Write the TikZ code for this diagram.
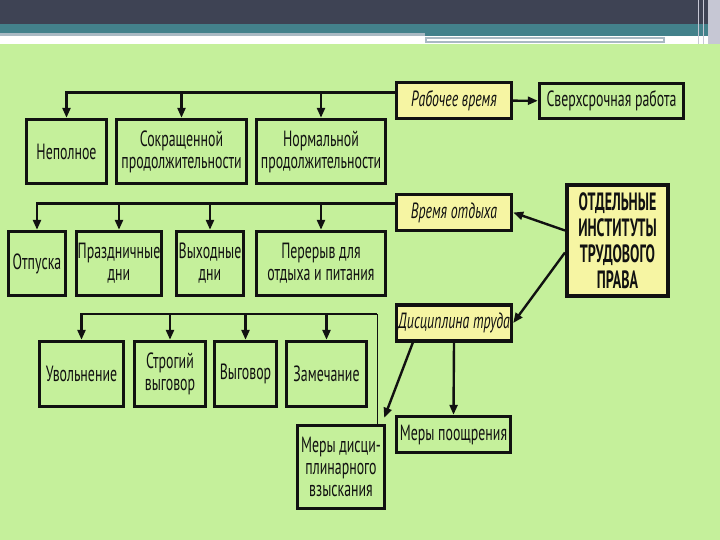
\documentclass[tikz,border=0pt]{standalone}
\usepackage{fontspec}
\setmainfont[FakeStretch=0.63]{PT Sans}
\newfontfamily\TIHeadFont[FakeStretch=0.56]{PT Sans}
\usetikzlibrary{arrows.meta,calc}
\definecolor{tiLeaf}{HTML}{C5F09B}
\definecolor{tiCream}{HTML}{F6F5A3}
\definecolor{tiSlate}{HTML}{3E4354}
\definecolor{tiTeal}{HTML}{43818B}
\definecolor{tiMist}{HTML}{A9B9C3}
\definecolor{tiPale}{HTML}{C6C7D4}
\definecolor{tiInk}{HTML}{111111}
\newcommand{\TIType}{\fontsize{22}{22}\selectfont}
\tikzset{ti/base/.style={x=1pt,y=-1pt,line join=miter,
  every node/.style={font=\TIType,inner sep=0pt,text=tiInk}},
  ti/arrow/.style={-{Triangle[length=10pt,width=8pt]},draw=tiInk,line width=2.4pt},
  ti/link/.style={draw=tiInk,line width=1pt},
  ti/kind/.style={draw=tiInk,fill=tiLeaf,line width=3.4pt,align=center},
  ti/group/.style={draw=tiInk,fill=tiCream,line width=3.4pt,align=center,
    font=\TIType\itshape,minimum width=115pt,minimum height=36pt},
  ti/root/.style={draw=tiInk,fill=tiCream,line width=4pt,align=center,
    minimum width=101pt,minimum height=111pt,
    font=\TIHeadFont\bfseries\fontsize{25}{26}\selectfont}}

\begin{document}
\begin{tikzpicture}[ti/base]
  \useasboundingbox (0,0) rectangle (720,540);
  % slide frame
  \fill[tiLeaf] (0,44) rectangle (720,540);
  \fill[tiSlate] (0,0) rectangle (720,24);
  \fill[tiTeal] (0,24) rectangle (720,36);
  \fill[tiMist] (0,33) rectangle (425,36);
  \fill[white] (0,36) rectangle (425,44);
  \fill[tiMist] (425,37) rectangle (665,43);
  \fill[white] (427,39) rectangle (663,41);
  \fill[tiPale] (708,0) rectangle (720,44);
  \draw[tiPale,line width=1pt] (698,0)--(698,44) (703,0)--(703,44);
  % groups
  \node[ti/root] (inst) at (617.5,240.5) {ОТДЕЛЬНЫЕ\\ИНСТИТУТЫ\\ТРУДОВОГО\\ПРАВА};
  \node[ti/group] (work) at (454,100.5) {Рабочее время};
  \node[ti/group] (rest) at (454,212.5) {Время отдыха};
  \node[ti/group] (disc) at (454,323) {Дисциплина труда};
  \node[ti/kind,minimum width=144pt,minimum height=35pt] (extra) at (611.5,101) {Сверхсрочная работа};
  % working time
  \node[ti/kind,minimum width=80pt,minimum height=64pt] (nepol) at (66.5,151.5) {Неполное};
  \node[ti/kind,minimum width=130pt,minimum height=64pt] (sokr) at (181.5,151.5) {Сокращенной\\продолжительности};
  \node[ti/kind,minimum width=129pt,minimum height=64pt] (norm) at (321,151.5) {Нормальной\\продолжительности};
  % rest time
  \node[ti/kind,minimum width=57pt,minimum height=64pt] (otp) at (37,263.5) {Отпуска};
  \node[ti/kind,minimum width=85pt,minimum height=64pt] (prazd) at (119,263.5) {Праздничные\\дни};
  \node[ti/kind,minimum width=67pt,minimum height=64pt] (vykh) at (210,263.5) {Выходные\\дни};
  \node[ti/kind,minimum width=129pt,minimum height=64pt] (pereryv) at (321,263.5) {Перерыв для\\отдыха и питания};
  % discipline
  \node[ti/kind,minimum width=84pt,minimum height=65pt] (uvol) at (81.5,374) {Увольнение};
  \node[ti/kind,minimum width=71pt,minimum height=65pt] (strog) at (170,374) {Строгий\\выговор};
  \node[ti/kind,minimum width=62pt,minimum height=65pt] (vygov) at (245.5,374) {Выговор};
  \node[ti/kind,minimum width=80pt,minimum height=65pt] (zamech) at (326.5,374) {Замечание};
  \node[ti/kind,minimum width=87pt,minimum height=83pt] (mery) at (341,467) {Меры дисци-\\плинарного\\взыскания};
  \node[ti/kind,minimum width=114pt,minimum height=36pt] (pooshch) at (453.5,434.5) {Меры поощрения};
  % connectors
  \draw[ti/arrow] (work) -- (extra);
  \draw[ti/arrow] ($(inst.west)+(0,-10)$) -- (rest.east);
  \draw[ti/arrow] ($(inst.west)+(0,12)$) -- (disc.east);
  \draw[ti/arrow] ($(disc.south west)+(18,0)$) -- ($(mery.north east)+(-2,-6)$);
  \draw[ti/arrow] (disc.south) -- (pooshch.north);
  \coordinate (b1) at ($(work.west)+(0,-8)$);
  \draw[ti/arrow] (b1) -| (nepol.north);
  \foreach \n in {sokr,norm}{\draw[ti/arrow] (b1 -| \n.north) -- (\n.north);}
  \coordinate (b2) at ($(rest.west)+(0,-9)$);
  \draw[ti/arrow] (b2) -| (otp.north);
  \foreach \n in {prazd,vykh,pereryv}{\draw[ti/arrow] (b2 -| \n.north) -- (\n.north);}
  \coordinate (b3) at (377,314);
  \draw[ti/link] (mery.north -| b3) -- (b3);
  \draw[ti/arrow] (b3) -| (uvol.north);
  \foreach \n in {strog,vygov,zamech}{\draw[ti/arrow] (b3 -| \n.north) -- (\n.north);}
\end{tikzpicture}
\end{document}
